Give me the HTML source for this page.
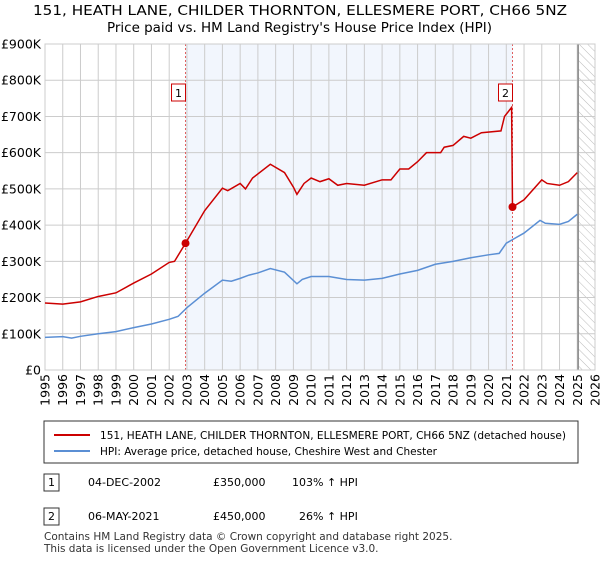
<!DOCTYPE html>
<html><head><meta charset="utf-8"><style>
body{margin:0;background:#fff;font-family:"Liberation Sans","DejaVu Sans",sans-serif;}
svg text{font-family:"DejaVu Sans","Liberation Sans",sans-serif;}
</style></head><body>
<svg width="600" height="560" viewBox="0 0 600 560" xmlns="http://www.w3.org/2000/svg">
<defs><pattern id="hatch" width="6" height="6" patternUnits="userSpaceOnUse" patternTransform="rotate(-45)"><line x1="0" y1="0" x2="0" y2="6" stroke="#bbb" stroke-width="1"/></pattern></defs>
<text x="33" y="15" font-size="13" textLength="534" lengthAdjust="spacingAndGlyphs">151, HEATH LANE, CHILDER THORNTON, ELLESMERE PORT, CH66 5NZ</text>
<text x="107" y="32" font-size="13" textLength="385" lengthAdjust="spacingAndGlyphs">Price paid vs. HM Land Registry's House Price Index (HPI)</text>
<g id="plot"></g>
<g>
<rect x="44" y="421" width="534" height="42" fill="#fff" stroke="#333"/>
<line x1="54" y1="435" x2="90" y2="435" stroke="#cc0000" stroke-width="2"/>
<text x="100" y="439" font-size="11" textLength="466" lengthAdjust="spacingAndGlyphs">151, HEATH LANE, CHILDER THORNTON, ELLESMERE PORT, CH66 5NZ (detached house)</text>
<line x1="54" y1="451" x2="90" y2="451" stroke="#5b8fd4" stroke-width="2"/>
<text x="100" y="455" font-size="11" textLength="337" lengthAdjust="spacingAndGlyphs">HPI: Average price, detached house, Cheshire West and Chester</text>
</g>
<g font-size="11">
<rect x="44" y="474" width="15" height="17" fill="#fff" stroke="#333"/><text x="51.5" y="486" text-anchor="middle">1</text>
<text x="88" y="486">04-DEC-2002</text><text x="213" y="486">£350,000</text><text x="292" y="486">103% ↑ HPI</text>
<rect x="44" y="508" width="15" height="17" fill="#fff" stroke="#333"/><text x="51.5" y="520" text-anchor="middle">2</text>
<text x="88" y="520">06-MAY-2021</text><text x="213" y="520">£450,000</text><text x="299" y="520">26% ↑ HPI</text>
</g>
<text x="44" y="540" font-size="10.5" fill="#333">Contains HM Land Registry data © Crown copyright and database right 2025.</text>
<text x="44" y="552" font-size="10.5" fill="#333">This data is licensed under the Open Government Licence v3.0.</text>
</svg>
<script>
const yTicks=[0,100,200,300,400,500,600,700,800,900];
const yTickLabels=["£0","£100K","£200K","£300K","£400K","£500K","£600K","£700K","£800K","£900K"];
const xYears=[1995,1996,1997,1998,1999,2000,2001,2002,2003,2004,2005,2006,2007,2008,2009,2010,2011,2012,2013,2014,2015,2016,2017,2018,2019,2020,2021,2022,2023,2024,2025,2026];
const hpiT=[1995,1996,1996.5,1997,1998,1999,2000,2001,2002,2002.5,2003,2004,2005,2005.5,2006,2006.5,2007,2007.7,2008.5,2009.2,2009.5,2010,2011,2012,2013,2014,2015,2016,2017,2018,2019,2020,2020.6,2021,2021.35,2022,2022.9,2023.2,2024,2024.5,2025];
const hpiV=[90,92,88,93,100,106,117,127,140,148,172,212,248,245,253,262,268,280,270,238,250,258,258,250,248,253,265,275,292,300,310,318,322,350,360,378,413,405,402,410,430];
const redT=[1995,1996,1997,1998,1999,2000,2001,2002,2002.3,2002.92,2004,2005,2005.3,2006,2006.3,2006.7,2007.7,2008.5,2009,2009.2,2009.6,2010,2010.5,2011,2011.5,2012,2013,2014,2014.5,2015,2015.5,2016,2016.5,2017.3,2017.5,2018,2018.6,2019,2019.6,2020.7,2020.9,2021.3,2021.35,2022,2023,2023.3,2024,2024.5,2025];
const redV=[185,182,188,203,213,240,265,297,300,350,440,502,495,515,500,530,568,545,505,485,515,530,520,528,510,515,510,525,525,555,555,575,600,600,615,620,645,640,655,660,700,725,450,470,525,515,510,520,545];
const saleT=[2002.92,2021.35];
const saleV=[350,450];
const saleLabels=["1","2"];
const X0=45,X1=595,Y0=370,Y1=44,dataEnd=2025.05;
const xs=t=>X0+(t-1995)/(2026-1995)*(X1-X0);
const ys=v=>Y0-v/900*(Y0-Y1);
const NS="http://www.w3.org/2000/svg";
const g=document.getElementById('plot');
function mk(tag,attrs,parent){const e=document.createElementNS(NS,tag);for(const k in attrs)e.setAttribute(k,attrs[k]);(parent||g).appendChild(e);return e;}
let r=mk('rect',{x:xs(saleT[0]),y:Y1,width:xs(saleT[1])-xs(saleT[0]),height:Y0-Y1,fill:'#f2f6fd'});


r=mk('rect',{x:xs(dataEnd),y:Y1,width:X1-xs(dataEnd),height:Y0-Y1,fill:'url(#hatch)'});


yTicks.forEach((v,i)=>{
 mk('line',{x1:X0,x2:X1,y1:ys(v),y2:ys(v),stroke:'#ccc'});
 const t=mk('text',{x:X0-4,y:ys(v)+4.5,'text-anchor':'end','font-size':'12.5'});t.textContent=yTickLabels[i];
 
 
});
xYears.forEach(y=>{
 mk('line',{x1:xs(y),x2:xs(y),y1:Y1,y2:Y0,stroke:'#ccc'});
 const t=mk('text',{transform:`translate(${xs(y)+4.5},${Y0+4}) rotate(-90)`,'text-anchor':'end','font-size':'12.5'});t.textContent=y;
 
 
});
mk('line',{x1:xs(dataEnd),x2:xs(dataEnd),y1:Y1,y2:Y0,stroke:'#888','stroke-width':1.5});
saleT.forEach(t=>mk('line',{x1:xs(t),x2:xs(t),y1:Y1,y2:Y0,stroke:'#e06060','stroke-dasharray':'2,2'}));
mk('rect',{x:X0,y:Y1,width:X1-X0,height:Y0-Y1,fill:'none',stroke:'#ccc'});
let p=mk('polyline',{points:hpiT.map((t,i)=>xs(t)+','+ys(hpiV[i])).join(' '),fill:'none',stroke:'#5b8fd4','stroke-width':1.5});


p=mk('polyline',{points:redT.map((t,i)=>xs(t)+','+ys(redV[i])).join(' '),fill:'none',stroke:'#cc0000','stroke-width':1.5});


saleT.forEach((t,i)=>{
 const c=mk('circle',{cx:xs(t),cy:ys(saleV[i]),r:4,fill:'#cc0000'});
 
 
 const bx=xs(t)-13;
 mk('rect',{x:bx-1,y:84,width:14,height:17,fill:'#fff',stroke:'#cc0000'});
 const l=mk('text',{x:bx+6,y:97,'text-anchor':'middle','font-size':'11'});l.textContent=saleLabels[i];
 
 
});
</script>
</body></html>
